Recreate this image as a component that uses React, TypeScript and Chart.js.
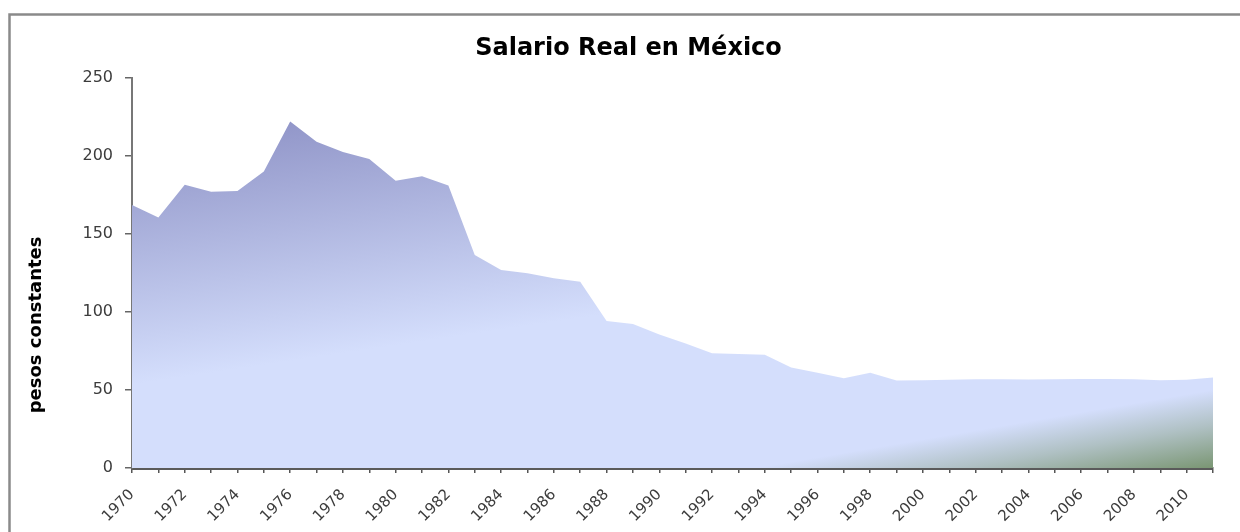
import React, { useEffect, useRef } from 'react';
import { Chart, registerables } from 'chart.js';

Chart.register(...registerables);

// ---- data ----
const years: string[] = [
  '1970', '1971', '1972', '1973', '1974', '1975', '1976', '1977', '1978', '1979',
  '1980', '1981', '1982', '1983', '1984', '1985', '1986', '1987', '1988', '1989',
  '1990', '1991', '1992', '1993', '1994', '1995', '1996', '1997', '1998', '1999',
  '2000', '2001', '2002', '2003', '2004', '2005', '2006', '2007', '2008', '2009',
  '2010', '2011',
];

const salarioReal: number[] = [
  168.5, 160.5, 181.5, 177, 177.5, 190, 222, 209, 202.5, 198,
  184, 187, 181, 136.5, 126.8, 124.8, 121.5, 119.3, 94.2, 92.3,
  85.5, 79.8, 73.5, 73, 72.6, 64.4, 61, 57.5, 61, 56,
  56.2, 56.5, 56.8, 56.8, 56.7, 56.8, 57, 57, 56.8, 56.3,
  56.5, 58,
];

const yTickValues: number[] = [0, 50, 100, 150, 200, 250];

const chartTitle = 'Salario Real en México';
const yAxisTitle = 'pesos constantes';

const FONT = "'DejaVu Sans', 'Liberation Sans', Arial, sans-serif";

export default function App() {
  const canvasRef = useRef<HTMLCanvasElement>(null);

  useEffect(() => {
    document.body.style.margin = '0';
    document.body.style.overflow = 'hidden';
    const canvas = canvasRef.current;
    if (!canvas) return;

    const framePlugin = {
      id: 'frame',
      beforeDraw(chart: any) {
        const ctx = chart.ctx;
        ctx.save();
        ctx.fillStyle = '#ffffff';
        ctx.fillRect(0, 0, chart.width, chart.height);
        ctx.strokeStyle = '#8a8a8a';
        ctx.lineWidth = 2.5;
        ctx.strokeRect(9.5, 14.5, chart.width + 100, chart.height + 100);
        ctx.restore();
      },
    };

    const yTitlePlugin = {
      id: 'yTitleCustom',
      afterDraw(chart: any) {
        const ctx = chart.ctx;
        const area = chart.chartArea;
        ctx.save();
        ctx.translate(36, (area.top + area.bottom) / 2 + 52);
        ctx.rotate(-Math.PI / 2);
        ctx.font = `bold 18px ${FONT}`;
        ctx.fillStyle = '#000000';
        ctx.textAlign = 'center';
        ctx.textBaseline = 'middle';
        ctx.fillText(yAxisTitle, 0, 0);
        ctx.restore();
      },
    };

    const purpleFill = (c: any) => {
      const chart = c.chart;
      const area = chart.chartArea;
      if (!area) return '#c8d0f4';
      const y0 = chart.scales.y.getPixelForValue(225);
      const g = chart.ctx.createLinearGradient(area.left, y0, area.left + 39, y0 + 262);
      g.addColorStop(0, '#8a8ec3');
      g.addColorStop(1, '#d4defc');
      return g;
    };

    const greenFill = (c: any) => {
      const chart = c.chart;
      const area = chart.chartArea;
      if (!area) return 'rgba(0,0,0,0)';
      const g = chart.ctx.createLinearGradient(area.right - 13, area.bottom - 76, area.right, area.bottom);
      g.addColorStop(0, 'rgba(125,152,118,0)');
      g.addColorStop(0.45, 'rgba(125,152,118,0.42)');
      g.addColorStop(1, 'rgba(122,150,115,1)');
      return g;
    };

    const chart = new Chart(canvas, {
      type: 'line',
      data: {
        labels: years,
        datasets: [
          {
            label: 'Salario real',
            data: salarioReal,
            fill: 'origin',
            backgroundColor: purpleFill,
            borderWidth: 0,
            pointRadius: 0,
            tension: 0,
            order: 1,
          },
          {
            label: 'Salario real (sombra)',
            data: salarioReal,
            fill: 'origin',
            backgroundColor: greenFill,
            borderWidth: 0,
            pointRadius: 0,
            tension: 0,
            order: 0,
          },
        ],
      },
      options: {
        animation: false,
        responsive: false,
        devicePixelRatio: 1,
        layout: { padding: { left: 44, right: 27, top: 0, bottom: 0 } },
        plugins: {
          legend: { display: false },
          tooltip: { enabled: false },
          title: {
            display: true,
            text: chartTitle,
            color: '#000000',
            font: { family: FONT, size: 24, weight: 'bold' },
            padding: { top: 34, bottom: 15 },
          },
        },
        scales: {
          x: {
            type: 'category',
            offset: false,
            grid: {
              display: true,
              drawOnChartArea: false,
              drawTicks: true,
              tickLength: 5,
              color: '#555555',
              lineWidth: 1.5,
              offset: false,
            },
            border: { display: true, color: '#5a5a5a', width: 3 },
            ticks: {
              autoSkip: false,
              maxRotation: 45,
              minRotation: 45,
              padding: 13,
              color: '#3c3c3c',
              font: { family: FONT, size: 15 },
              callback: (_v: any, i: number) => (i % 2 === 0 ? years[i] : ''),
            },
            afterFit: (s: any) => {
              s.height = 64;
            },
          },
          y: {
            min: 0,
            max: 250,
            afterBuildTicks: (s: any) => {
              s.ticks = yTickValues.map((v) => ({ value: v }));
            },
            grid: {
              display: true,
              drawOnChartArea: false,
              drawTicks: true,
              tickLength: 7,
              color: '#666666',
              lineWidth: 1.5,
            },
            border: { display: true, color: '#777777', width: 2 },
            ticks: {
              padding: 12,
              color: '#3c3c3c',
              font: { family: FONT, size: 16 },
            },
            afterFit: (s: any) => {
              s.width = 88;
            },
          },
        },
      },
      plugins: [framePlugin, yTitlePlugin],
    } as any);

    return () => {
      chart.destroy();
    };
  }, []);

  return (
    <div style={{ width: 1240, height: 532 }}>
      <canvas ref={canvasRef} width={1240} height={532} style={{ display: 'block' }} />
    </div>
  );
}
